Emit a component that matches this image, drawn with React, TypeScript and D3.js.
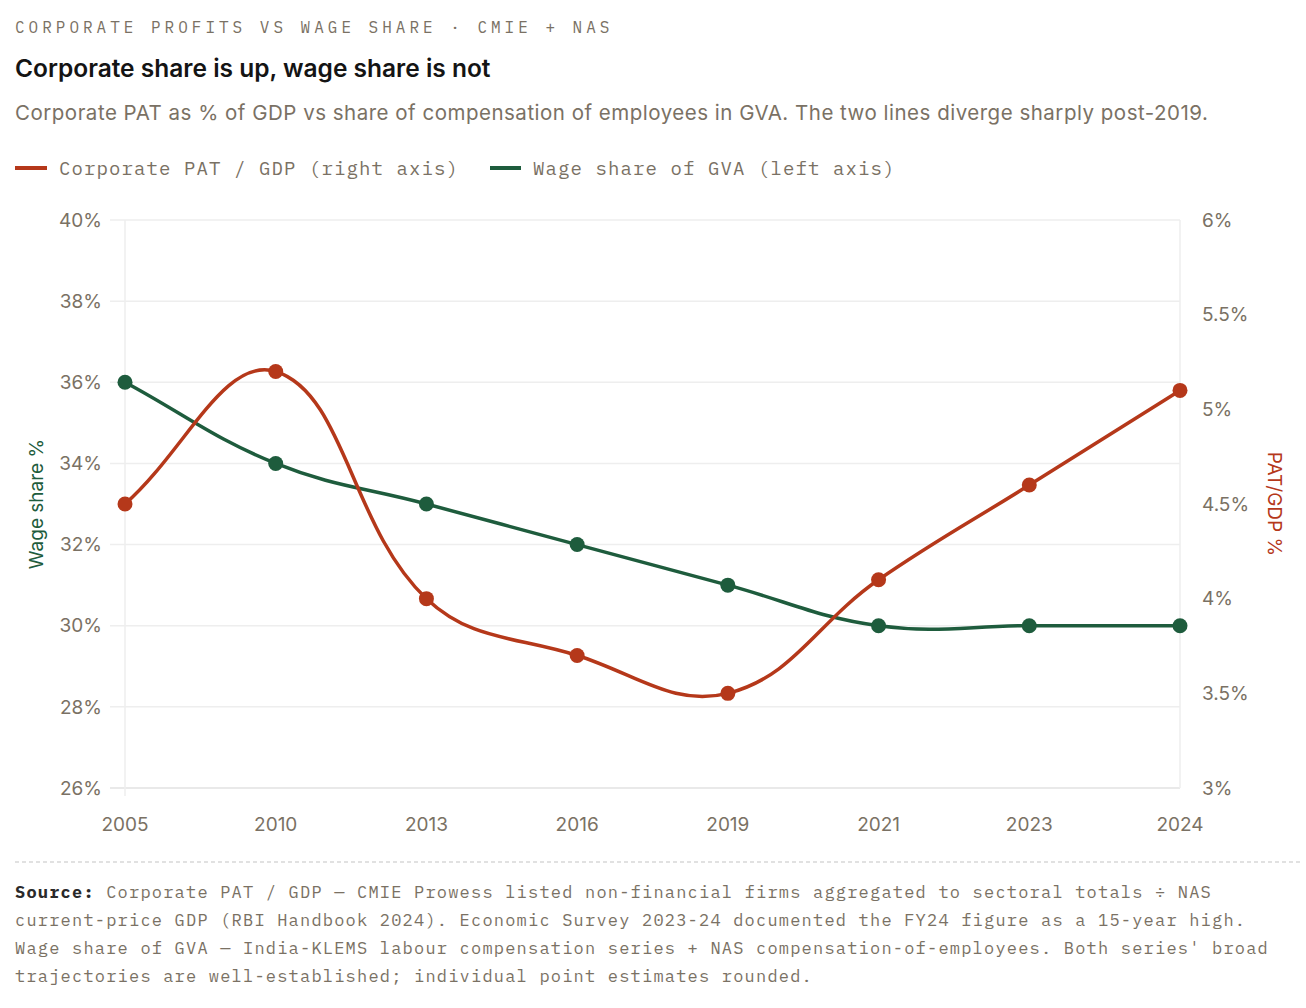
import React from "react";
import * as d3 from "d3";

const years = ["2005", "2010", "2013", "2016", "2019", "2021", "2023", "2024"];
const patGdp = [4.5, 5.2, 4.0, 3.7, 3.5, 4.1, 4.6, 5.1];
const wageShare = [36, 34, 33, 32, 31, 30, 30, 30];
const leftTicks = [26, 28, 30, 32, 34, 36, 38, 40];
const rightTicks = [3, 3.5, 4, 4.5, 5, 5.5, 6];
const sourceLines = [
  "Corporate PAT / GDP — CMIE Prowess listed non-financial firms aggregated to sectoral totals ÷ NAS",
  "current-price GDP (RBI Handbook 2024). Economic Survey 2023-24 documented the FY24 figure as a 15-year high.",
  "Wage share of GVA — India-KLEMS labour compensation series + NAS compensation-of-employees. Both series' broad",
  "trajectories are well-established; individual point estimates rounded.",
];

const RED = "#b5381a";
const GREEN = "#1e5c3d";
const GREY = "#7a7164";
const SANS = "Inter, 'Noto Sans', sans-serif";
const MONO = "'IBM Plex Mono', 'Liberation Mono', 'DejaVu Sans Mono', monospace";

// Chart.js-style spline (tension 0.4) as a d3 curve factory
function chartSpline(tension: number) {
  return (context: any) => {
    let pts: [number, number][] = [];
    return {
      areaStart() {},
      areaEnd() {},
      lineStart() {
        pts = [];
      },
      point(x: number, y: number) {
        pts.push([x, y]);
      },
      lineEnd() {
        const n = pts.length;
        if (!n) return;
        const cps = pts.map((p, i) => {
          const prev = pts[i - 1] || p;
          const next = pts[i + 1] || p;
          const d01 = Math.hypot(p[0] - prev[0], p[1] - prev[1]);
          const d12 = Math.hypot(next[0] - p[0], next[1] - p[1]);
          let s01 = d01 / (d01 + d12);
          let s12 = d12 / (d01 + d12);
          if (!isFinite(s01)) s01 = 0;
          if (!isFinite(s12)) s12 = 0;
          const fa = tension * s01;
          const fb = tension * s12;
          return {
            c1: [p[0] - fa * (next[0] - prev[0]), p[1] - fa * (next[1] - prev[1])],
            c2: [p[0] + fb * (next[0] - prev[0]), p[1] + fb * (next[1] - prev[1])],
          };
        });
        context.moveTo(pts[0][0], pts[0][1]);
        for (let i = 1; i < n; i++) {
          context.bezierCurveTo(
            cps[i - 1].c2[0], cps[i - 1].c2[1],
            cps[i].c1[0], cps[i].c1[1],
            pts[i][0], pts[i][1]
          );
        }
      },
    };
  };
}

export default function App() {
  const W = 1306;
  const H = 1008;
  const x = d3.scalePoint<string>().domain(years).range([125, 1180]);
  const yL = d3.scaleLinear().domain([26, 40]).range([788, 220]);
  const yR = d3.scaleLinear().domain([3, 6]).range([788, 220]);

  const lineW = d3
    .line<number>()
    .x((_, i) => x(years[i])!)
    .y((d) => yL(d))
    .curve(chartSpline(0.4) as any);
  const lineR = d3
    .line<number>()
    .x((_, i) => x(years[i])!)
    .y((d) => yR(d))
    .curve(chartSpline(0.4) as any);

  const midY = (220 + 788) / 2;

  return (
    <svg
      width={W}
      height={H}
      style={{ position: "absolute", left: 0, top: 0, background: "#fff" }}
    >
      <rect width={W} height={H} fill="#fff" />
      {/* header */}
      <text x={15} y={33} fontFamily={MONO} fontSize={16} letterSpacing={4} fill={GREY}>
        CORPORATE PROFITS VS WAGE SHARE · CMIE + NAS
      </text>
      <text x={15} y={77} fontFamily={SANS} fontSize={24.5} fontWeight={600} fill="#141414">
        Corporate share is up, wage share is not
      </text>
      <text x={15} y={120} fontFamily={SANS} fontSize={20.5} letterSpacing={0.5} fill={GREY}>
        Corporate PAT as % of GDP vs share of compensation of employees in GVA. The two lines diverge sharply post-2019.
      </text>

      {/* legend */}
      <line x1={15} x2={47} y1={168} y2={168} stroke={RED} strokeWidth={4} />
      <text x={59} y={175} fontFamily={MONO} fontSize={19} letterSpacing={1.1} fill={GREY}>
        Corporate PAT / GDP (right axis)
      </text>
      <line x1={490} x2={521} y1={168} y2={168} stroke={GREEN} strokeWidth={4} />
      <text x={533} y={175} fontFamily={MONO} fontSize={19} letterSpacing={1.1} fill={GREY}>
        Wage share of GVA (left axis)
      </text>

      {/* grid */}
      {leftTicks.map((t) => (
        <line
          key={"g" + t}
          x1={110}
          x2={1180}
          y1={yL(t)}
          y2={yL(t)}
          stroke={t === 26 ? "#e2e2e2" : "#eeeeee"}
          strokeWidth={1.5}
        />
      ))}
      <line x1={125} x2={125} y1={220} y2={796} stroke="#eeeeee" strokeWidth={1.5} />
      <line x1={1180} x2={1180} y1={220} y2={788} stroke="#eeeeee" strokeWidth={1.5} />

      {/* left ticks */}
      {leftTicks.map((t) => (
        <text
          key={"l" + t}
          x={102}
          y={yL(t)}
          dy="0.35em"
          textAnchor="end"
          fontFamily={SANS}
          fontSize={19}
          fill={GREY}
        >
          {t}%
        </text>
      ))}
      {/* right ticks */}
      {rightTicks.map((t) => (
        <text
          key={"r" + t}
          x={1202}
          y={yR(t)}
          dy="0.35em"
          textAnchor="start"
          fontFamily={SANS}
          fontSize={19}
          fill={GREY}
        >
          {t}%
        </text>
      ))}
      {/* x ticks */}
      {years.map((yr) => (
        <text
          key={"x" + yr}
          x={x(yr)}
          y={831}
          textAnchor="middle"
          fontFamily={SANS}
          fontSize={19}
          fill={GREY}
        >
          {yr}
        </text>
      ))}

      {/* axis titles */}
      <text
        transform={`translate(43,${midY}) rotate(-90)`}
        textAnchor="middle"
        fontFamily={SANS}
        fontSize={19}
        fill={GREEN}
      >
        Wage share %
      </text>
      <text
        transform={`translate(1268,${midY}) rotate(90)`}
        textAnchor="middle"
        fontFamily={SANS}
        fontSize={19}
        fill={RED}
      >
        PAT/GDP %
      </text>

      {/* lines */}
      <path d={lineW(wageShare) || ""} fill="none" stroke={GREEN} strokeWidth={3.5} />
      {wageShare.map((v, i) => (
        <circle key={"cw" + i} cx={x(years[i])} cy={yL(v)} r={7.5} fill={GREEN} />
      ))}
      <path d={lineR(patGdp) || ""} fill="none" stroke={RED} strokeWidth={3.5} />
      {patGdp.map((v, i) => (
        <circle key={"cr" + i} cx={x(years[i])} cy={yR(v)} r={7.5} fill={RED} />
      ))}

      {/* separator */}
      <line
        x1={15}
        x2={1300}
        y1={862}
        y2={862}
        stroke="#d8d8d8"
        strokeWidth={1.5}
        strokeDasharray="4 3"
      />

      {/* source */}
      {sourceLines.map((ln, i) => (
        <text
          key={"s" + i}
          x={15}
          y={898 + i * 28}
          fontFamily={MONO}
          fontSize={17}
          letterSpacing={1.2}
          fill={GREY}
        >
          {i === 0 && (
            <tspan fontWeight={700} fill="#2a2a2a">
              Source:{" "}
            </tspan>
          )}
          {ln}
        </text>
      ))}
    </svg>
  );
}
